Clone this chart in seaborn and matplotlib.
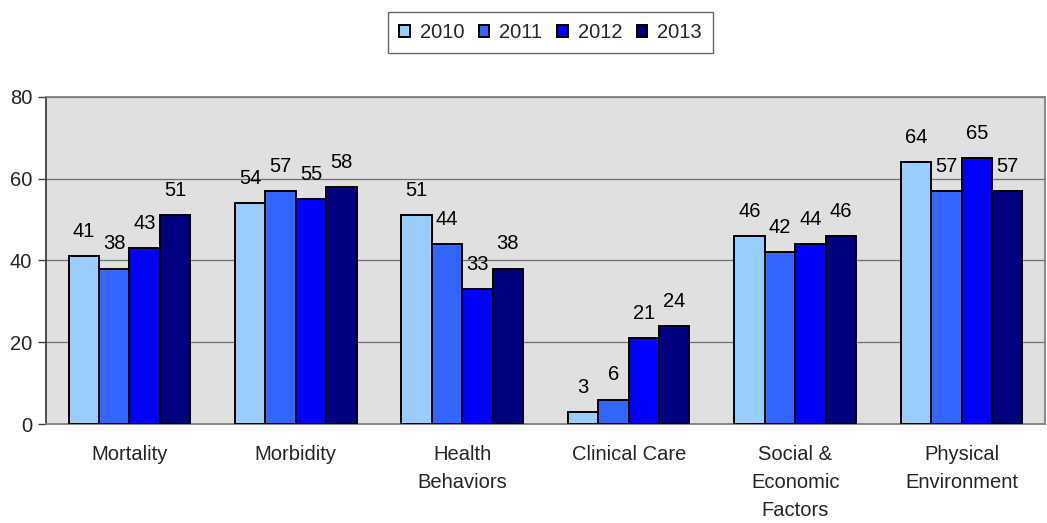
import matplotlib
matplotlib.use("Agg")
import matplotlib.pyplot as plt
import seaborn as sns
import pandas as pd
import numpy as np

categories = ["Mortality", "Morbidity", "Health\nBehaviors", "Clinical Care",
              "Social &\nEconomic\nFactors", "Physical\nEnvironment"]
years = ["2010", "2011", "2012", "2013"]
v2010 = [41, 54, 51, 3, 46, 64]
v2011 = [38, 57, 44, 6, 42, 57]
v2012 = [43, 55, 33, 21, 44, 65]
v2013 = [51, 58, 38, 24, 46, 57]
colors = ["#99CCFF", "#3366FF", "#0000FF", "#000080"]

rows = []
for yr, vals in zip(years, [v2010, v2011, v2012, v2013]):
    for c, v in zip(categories, vals):
        rows.append({"category": c, "year": yr, "value": v})
df = pd.DataFrame(rows)

sns.set_style("white")
plt.rcParams["font.family"] = ["Liberation Sans", "DejaVu Sans"]
FS = 14.5

fig = plt.figure(figsize=(10.47, 5.23), dpi=100)
ax = fig.add_axes([0.044, 0.189, 0.954, 0.626])
ax.set_facecolor("#e0e0e0")

sns.barplot(data=df, x="category", y="value", hue="year", order=categories,
            hue_order=years, palette=colors, saturation=1, width=0.73, gap=0,
            edgecolor="black", linewidth=1.4, ax=ax, legend=True, zorder=3)

for cont in ax.containers:
    ax.bar_label(cont, fmt="%d", padding=11, fontsize=FS, color="black")

ax.set_ylim(0, 80)
ax.set_xlim(-0.5, len(categories) - 0.5)
ax.set_yticks([0, 20, 40, 60, 80])
ax.set_yticklabels(["0", "20", "40", "60", "80"], fontsize=FS)
ax.yaxis.grid(True, color="#707070", linewidth=0.9, zorder=1)
ax.set_axisbelow(True)
ax.set_xlabel("")
ax.set_ylabel("")

ax.set_xticks(range(len(categories)))
ax.set_xticklabels(categories, fontsize=FS, linespacing=1.6, va="top")
ax.set_xticks(np.arange(-0.5, len(categories), 1.0), minor=True)
ax.tick_params(axis="x", which="major", length=0, pad=15)
ax.tick_params(axis="x", which="minor", length=6, color="#404040", width=1, direction="out")
ax.tick_params(axis="y", length=6, color="#404040", width=1, direction="out", left=True, pad=4)

for side in ["top", "right", "bottom"]:
    ax.spines[side].set_color("#808080")
    ax.spines[side].set_linewidth(1.3)
ax.spines["left"].set_color("#404040")
ax.spines["left"].set_linewidth(1.3)

handles, labels = ax.get_legend_handles_labels()
ax.get_legend().remove()
leg = fig.legend(handles, labels, loc="center", bbox_to_anchor=(0.526, 0.938),
                 ncol=4, frameon=True, fontsize=FS, handlelength=0.5,
                 handleheight=0.5, handletextpad=0.5, columnspacing=0.75,
                 borderpad=0.55, fancybox=False)
leg.get_frame().set_edgecolor("#404040")
leg.get_frame().set_linewidth(1.0)

fig.savefig("out.png", dpi=100)
